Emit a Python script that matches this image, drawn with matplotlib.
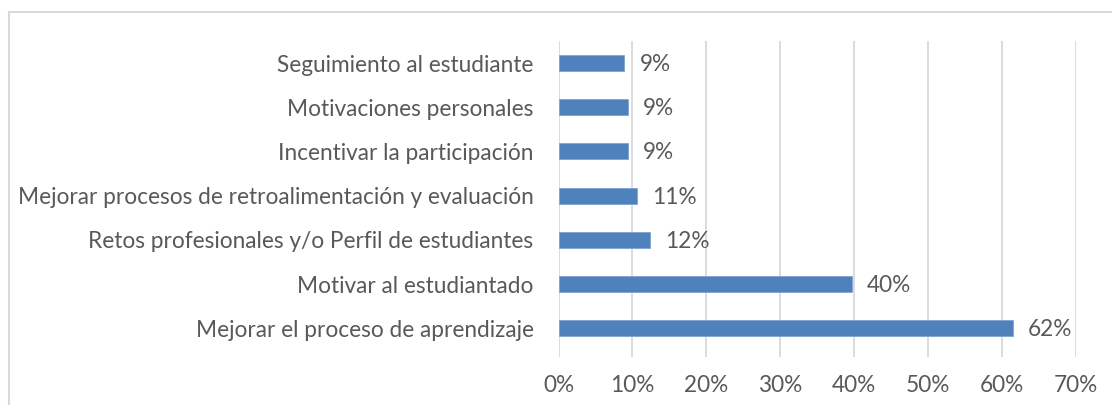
import matplotlib.pyplot as plt
from matplotlib.patches import Rectangle
from matplotlib.ticker import PercentFormatter

# categories, bottom to top
categories = [
    "Mejorar el proceso de aprendizaje",
    "Motivar al estudiantado",
    "Retos profesionales y/o Perfil de estudiantes",
    "Mejorar procesos de retroalimentación y evaluación",
    "Incentivar la participación",
    "Motivaciones personales",
    "Seguimiento al estudiante",
]
values = [0.615, 0.397, 0.124, 0.106, 0.094, 0.094, 0.089]
xticks = [0, 0.1, 0.2, 0.3, 0.4, 0.5, 0.6, 0.7]

bar_color = "#4F81BD"
text_color = "#595959"
grid_color = "#D9D9D9"

plt.rcParams['font.family'] = ['Lato', 'DejaVu Sans']

fig = plt.figure(figsize=(11.12, 4.05), dpi=100)
ax = fig.add_axes([0.5023, 0.1185, 0.4651, 0.7805])

pos = list(range(len(categories)))
ax.barh(pos, values, height=0.36, color=bar_color, edgecolor="#7FA3D1",
        linewidth=0.6, zorder=3)

# data labels
for p, v in zip(pos, values):
    ax.annotate("{:.0%}".format(v), xy=(v, p), xytext=(11, -1),
                textcoords="offset points", ha="left", va="center",
                fontsize=16.3, color=text_color)

ax.set_xlim(0, 0.7)
ax.set_ylim(-0.65, 6.5)
ax.set_xticks(xticks)
ax.xaxis.set_major_formatter(PercentFormatter(1.0, decimals=0))
ax.set_yticks(pos)
ax.set_yticklabels(categories)
ax.tick_params(axis="both", length=0, labelsize=16.3, labelcolor=text_color)
ax.tick_params(axis="y", pad=18)
ax.tick_params(axis="x", pad=13)
ax.grid(axis="x", color=grid_color, linewidth=1.3, zorder=0)
for s in ax.spines.values():
    s.set_visible(False)

# outer chart border (runs past the right and bottom edges)
fig.patches.append(Rectangle((9 / 1112, -0.1), 1.2, 1.1 - 12 / 405,
                             transform=fig.transFigure, fill=False,
                             edgecolor=grid_color, linewidth=1.5))

fig.savefig("out.png", dpi=100)
